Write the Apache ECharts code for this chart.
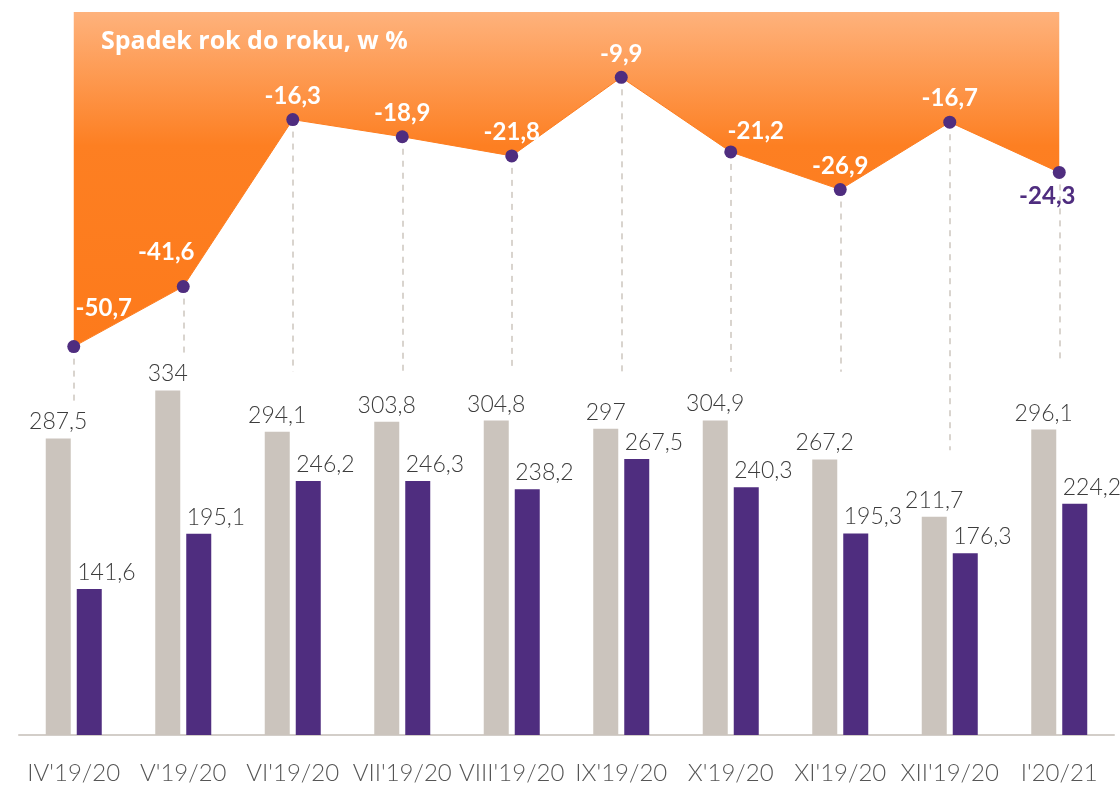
<!DOCTYPE html>
<html>
<head>
<meta charset="utf-8">
<script src="https://cdn.jsdelivr.net/npm/echarts@6/dist/echarts.min.js"></script>
<style>
  html, body { margin: 0; padding: 0; background: #fff; }
  #chart { width: 1120px; height: 788px; }
</style>
</head>
<body>
<div id="chart"></div>
<script>
// dane
var categories = ["IV'19/20", "V'19/20", "VI'19/20", "VII'19/20", "VIII'19/20", "IX'19/20", "X'19/20", "XI'19/20", "XII'19/20", "I'20/21"];
var prevYear = [287.5, 334, 294.1, 303.8, 304.8, 297, 304.9, 267.2, 211.7, 296.1];
var currYear = [141.6, 195.1, 246.2, 246.3, 238.2, 267.5, 240.3, 195.3, 176.3, 224.2];
var yoyChange = [-50.7, -41.6, -16.3, -18.9, -21.8, -9.9, -21.2, -26.9, -16.7, -24.3];
// koniec linii przerywanych (w jednostkach osi %)
var leaderEnds = [-59.2, -51.7, -54.5, -54.5, -54.5, -54.5, -54.5, -54.5, -66.4, -53.2];

var fmt = function (v) { return String(v).replace('.', ','); };

(function () {
    var chart = echarts.init(document.getElementById('chart'));

    var GREY = '#cbc4bd';
    var PURPLE = '#4f2d7f';

    // przesunięcia etykiet linii
    var labelShift = {
        0: { offset: [30, -15] },
        1: { offset: [-17, -11] },
        6: { offset: [25, 3] },
        9: { position: 'bottom', offset: [-12, 0], color: PURPLE }
    };

    var lineData = yoyChange.map(function (v, i) {
        var item = { value: v };
        if (labelShift[i]) item.label = labelShift[i];
        return item;
    });

    var leaders = yoyChange.map(function (v, i) {
        return [{ coord: [i, v] }, { coord: [i, leaderEnds[i]] }];
    });

    var barLabel = {
        show: true,
        position: 'top',
        distance: 5,
        color: '#3c3c3c',
        fontSize: 23,
        fontWeight: 300,
        fontFamily: 'Lato, Roboto, sans-serif',
        formatter: function (p) { return fmt(p.value); }
    };

    var option = {
        backgroundColor: '#fff',
        animation: false,
        title: {
            text: 'Spadek rok do roku, w %',
            left: 96,
            top: 24,
            textStyle: {
                color: '#fff',
                fontSize: 25,
                fontWeight: 'bold',
                fontFamily: '"Open Sans", Lato, sans-serif'
            }
        },
        grid: [
            { left: 19, right: 6, top: 374, height: 361 },
            { left: 19, right: 6, top: 12, height: 462 }
        ],
        xAxis: [
            {
                type: 'category',
                gridIndex: 0,
                data: categories,
                axisLine: { lineStyle: { color: '#d3cec9', width: 2 } },
                axisTick: { inside: true, length: 9, lineStyle: { color: '#d3cec9', width: 2 } },
                axisLabel: {
                    interval: 0,
                    margin: 26,
                    color: '#555',
                    fontSize: 24,
                    fontWeight: 300,
                    fontFamily: 'Lato, Roboto, sans-serif'
                }
            },
            {
                type: 'category',
                gridIndex: 1,
                data: categories,
                show: false
            }
        ],
        yAxis: [
            { type: 'value', gridIndex: 0, min: 0, max: 350, show: false },
            { type: 'value', gridIndex: 1, min: -70, max: 0, show: false }
        ],
        series: [
            {
                name: 'prev',
                type: 'bar',
                xAxisIndex: 0,
                yAxisIndex: 0,
                data: prevYear,
                barWidth: 25,
                barGap: '24%',
                itemStyle: { color: GREY },
                label: barLabel
            },
            {
                name: 'curr',
                type: 'bar',
                xAxisIndex: 0,
                yAxisIndex: 0,
                data: currYear,
                barWidth: 25,
                itemStyle: { color: PURPLE },
                label: Object.assign({}, barLabel, { align: 'left', offset: [-12, 0] })
            },
            {
                name: 'yoy',
                type: 'line',
                xAxisIndex: 1,
                yAxisIndex: 1,
                data: lineData,
                symbol: 'circle',
                symbolSize: 13,
                itemStyle: { color: PURPLE },
                lineStyle: { color: '#fd7e21', width: 1 },
                areaStyle: {
                    opacity: 1,
                    color: new echarts.graphic.LinearGradient(0, 0, 0, 1, [
                        { offset: 0, color: '#feb27c' },
                        { offset: 0.4, color: '#fd7f22' },
                        { offset: 1, color: '#fd7a1b' }
                    ])
                },
                label: {
                    show: true,
                    position: 'top',
                    distance: 5,
                    color: '#fff',
                    fontSize: 24,
                    fontWeight: 'bold',
                    fontFamily: 'Lato, "Open Sans", sans-serif',
                    formatter: function (p) { return fmt(p.value); }
                },
                markLine: {
                    silent: true,
                    symbol: 'none',
                    label: { show: false },
                    lineStyle: { color: '#cdc6bf', type: [6, 6], width: 1.5 },
                    z: 1,
                    data: leaders
                },
                z: 3
            }
        ]
    };

    chart.setOption(option);
})();
</script>
</body>
</html>
